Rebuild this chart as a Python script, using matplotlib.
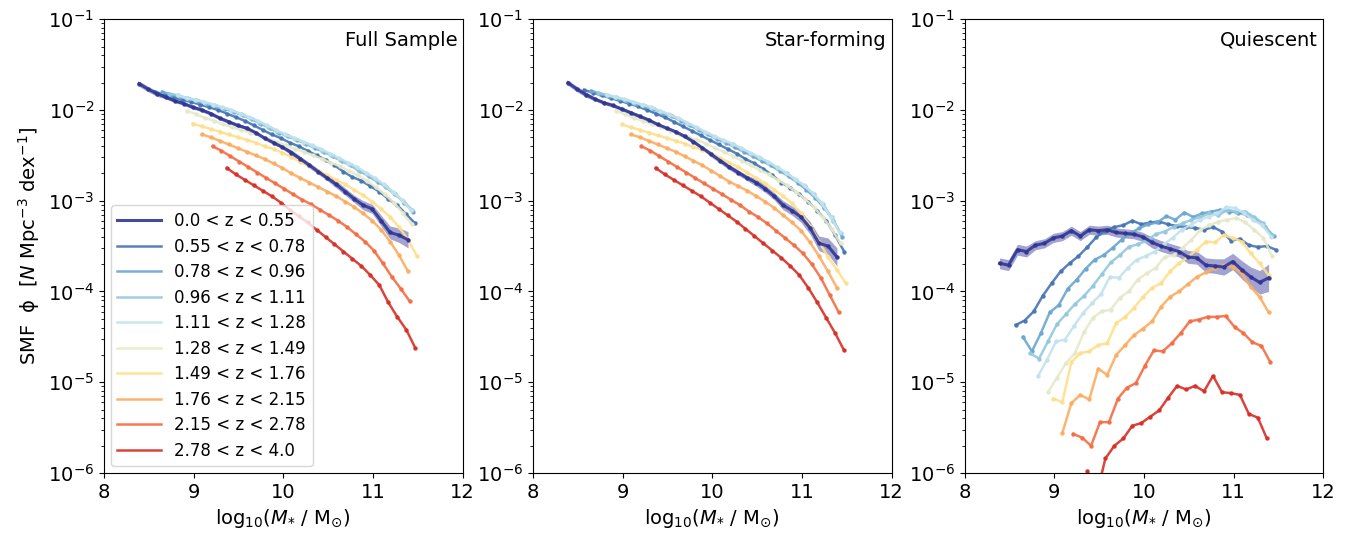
import numpy as np
import matplotlib
matplotlib.use("Agg")
import matplotlib.pyplot as plt

# redshift bins
z_labels = ['0.0 < z < 0.55', '0.55 < z < 0.78', '0.78 < z < 0.96', '0.96 < z < 1.11',
            '1.11 < z < 1.28', '1.28 < z < 1.49', '1.49 < z < 1.76', '1.76 < z < 2.15',
            '2.15 < z < 2.78', '2.78 < z < 4.0']
colors = ['#313695', '#4575b4', '#6aa6d0', '#94c8df', '#c2e3ee',
          '#e6e9c8', '#fedf8c', '#fcac62', '#f46d43', '#d73027']

# first mass bin (log10 M*/Msun) of each redshift bin, bins are 0.1 dex wide
m_start = [8.39, 8.57, 8.65, 8.73, 8.82, 8.93, 8.99, 9.09, 9.21, 9.37]
dm = 0.1

# ---- Full sample, log10(phi) ----
full_0 = [-1.71, -1.77, -1.82, -1.86, -1.90, -1.93, -1.97, -2.00, -2.04, -2.09, -2.13, -2.17, -2.20,
          -2.25, -2.31, -2.36, -2.41, -2.47, -2.54, -2.61, -2.68, -2.75, -2.82, -2.90, -2.98, -3.05,
          -3.09, -3.22, -3.35, -3.38, -3.43]
full_1 = [-1.80, -1.83, -1.86, -1.89, -1.91, -1.94, -1.97, -2.00, -2.04, -2.08, -2.12, -2.17, -2.22,
          -2.27, -2.31, -2.36, -2.40, -2.45, -2.50, -2.55, -2.61, -2.68, -2.74, -2.78, -2.84, -2.90,
          -2.98, -3.05, -3.15, -3.25]
full_2 = [-1.80, -1.83, -1.86, -1.88, -1.90, -1.93, -1.96, -1.99, -2.02, -2.06, -2.10, -2.15, -2.20,
          -2.25, -2.29, -2.33, -2.37, -2.42, -2.46, -2.51, -2.56, -2.61, -2.67, -2.73, -2.79, -2.85,
          -2.93, -3.02, -3.12]
full_3 = [-1.82, -1.84, -1.87, -1.89, -1.92, -1.95, -1.98, -2.01, -2.05, -2.09, -2.14, -2.19, -2.24,
          -2.28, -2.32, -2.36, -2.40, -2.45, -2.50, -2.55, -2.60, -2.66, -2.71, -2.77, -2.84, -2.92,
          -3.00, -3.10]
full_4 = [-1.84, -1.87, -1.89, -1.91, -1.94, -1.97, -2.00, -2.04, -2.08, -2.12, -2.17, -2.22, -2.27,
          -2.31, -2.35, -2.39, -2.43, -2.48, -2.53, -2.58, -2.63, -2.69, -2.75, -2.82, -2.90, -2.99,
          -3.10]
full_5 = [-2.01, -2.05, -2.09, -2.12, -2.16, -2.19, -2.22, -2.25, -2.28, -2.32, -2.35, -2.39, -2.43,
          -2.46, -2.50, -2.54, -2.58, -2.62, -2.67, -2.72, -2.78, -2.85, -2.93, -3.02, -3.13, -3.26]
full_6 = [-2.15, -2.18, -2.21, -2.24, -2.27, -2.30, -2.33, -2.36, -2.40, -2.43, -2.47, -2.52, -2.57,
          -2.62, -2.67, -2.72, -2.77, -2.82, -2.88, -2.94, -3.01, -3.09, -3.18, -3.29, -3.43, -3.61]
full_7 = [-2.27, -2.30, -2.34, -2.38, -2.42, -2.46, -2.50, -2.54, -2.59, -2.64, -2.70, -2.75, -2.80,
          -2.85, -2.90, -2.95, -3.01, -3.07, -3.14, -3.22, -3.32, -3.45, -3.60, -3.78]
full_8 = [-2.40, -2.45, -2.51, -2.57, -2.63, -2.69, -2.75, -2.81, -2.87, -2.93, -2.99, -3.04, -3.10,
          -3.16, -3.22, -3.29, -3.37, -3.45, -3.55, -3.69, -3.84, -3.97, -4.11]
full_9 = [-2.64, -2.71, -2.77, -2.83, -2.89, -2.95, -3.02, -3.10, -3.17, -3.24, -3.32, -3.40, -3.48,
          -3.56, -3.64, -3.72, -3.82, -3.93, -4.12, -4.28, -4.42, -4.62]
full_0_err = [0.03, 0.03, 0.03, 0.02, 0.02, 0.02, 0.02, 0.02, 0.02, 0.02, 0.02, 0.02, 0.02, 0.02,
              0.02, 0.02, 0.02, 0.03, 0.03, 0.03, 0.03, 0.03, 0.04, 0.04, 0.04, 0.05, 0.05, 0.06,
              0.07, 0.08, 0.09]

# ---- Star-forming ----
sf_0 = [-1.70, -1.77, -1.83, -1.88, -1.92, -1.95, -1.99, -2.03, -2.07, -2.11, -2.16, -2.20, -2.24,
        -2.29, -2.35, -2.42, -2.49, -2.56, -2.63, -2.69, -2.75, -2.80, -2.87, -2.95, -3.05, -3.11,
        -3.18, -3.30, -3.47, -3.50, -3.62]
sf_1 = [-1.78, -1.81, -1.84, -1.87, -1.90, -1.93, -1.96, -2.00, -2.04, -2.08, -2.13, -2.18, -2.23,
        -2.28, -2.33, -2.38, -2.43, -2.48, -2.54, -2.59, -2.65, -2.72, -2.80, -2.86, -2.93, -3.01,
        -3.11, -3.22, -3.38, -3.56]
sf_2 = [-1.79, -1.82, -1.85, -1.88, -1.90, -1.93, -1.96, -1.99, -2.03, -2.07, -2.12, -2.17, -2.22,
        -2.27, -2.32, -2.36, -2.41, -2.46, -2.51, -2.56, -2.61, -2.67, -2.73, -2.80, -2.88, -2.97,
        -3.08, -3.22, -3.40]
sf_3 = [-1.81, -1.84, -1.86, -1.89, -1.92, -1.95, -1.98, -2.02, -2.06, -2.10, -2.15, -2.20, -2.25,
        -2.30, -2.34, -2.38, -2.43, -2.48, -2.53, -2.58, -2.64, -2.70, -2.77, -2.84, -2.93, -3.04,
        -3.18, -3.36]
sf_4 = [-1.83, -1.86, -1.88, -1.91, -1.94, -1.97, -2.01, -2.05, -2.09, -2.14, -2.19, -2.24, -2.29,
        -2.33, -2.37, -2.42, -2.47, -2.52, -2.57, -2.63, -2.69, -2.76, -2.83, -2.92, -3.03, -3.18,
        -3.35]
sf_5 = [-2.01, -2.05, -2.09, -2.12, -2.16, -2.19, -2.23, -2.26, -2.30, -2.33, -2.37, -2.42, -2.46,
        -2.51, -2.56, -2.61, -2.66, -2.71, -2.77, -2.83, -2.90, -2.98, -3.07, -3.18, -3.31, -3.47]
sf_6 = [-2.16, -2.19, -2.22, -2.25, -2.28, -2.31, -2.34, -2.37, -2.41, -2.44, -2.48, -2.53, -2.58,
        -2.63, -2.69, -2.75, -2.81, -2.88, -2.95, -3.03, -3.14, -3.28, -3.45, -3.62, -3.76, -3.91]
sf_7 = [-2.27, -2.30, -2.34, -2.38, -2.42, -2.46, -2.51, -2.56, -2.61, -2.67, -2.73, -2.79, -2.84,
        -2.89, -2.95, -3.01, -3.08, -3.16, -3.24, -3.33, -3.46, -3.61, -3.78, -3.96]
sf_8 = [-2.40, -2.45, -2.51, -2.57, -2.63, -2.69, -2.75, -2.81, -2.87, -2.93, -2.99, -3.05, -3.12,
        -3.18, -3.25, -3.33, -3.41, -3.49, -3.58, -3.70, -3.85, -4.04, -4.23]
sf_9 = [-2.64, -2.71, -2.77, -2.83, -2.89, -2.95, -3.02, -3.09, -3.16, -3.23, -3.31, -3.39, -3.47,
        -3.55, -3.63, -3.72, -3.82, -3.96, -4.12, -4.29, -4.46, -4.65]
sf_0_err = [0.03, 0.03, 0.03, 0.02, 0.02, 0.02, 0.02, 0.02, 0.02, 0.02, 0.02, 0.02, 0.02, 0.02,
            0.02, 0.02, 0.03, 0.03, 0.03, 0.03, 0.03, 0.04, 0.04, 0.04, 0.05, 0.05, 0.06, 0.07,
            0.08, 0.09, 0.10]

# ---- Quiescent ----
q_0 = [-3.69, -3.71, -3.54, -3.56, -3.49, -3.47, -3.41, -3.39, -3.33, -3.39, -3.32, -3.33, -3.32,
       -3.35, -3.36, -3.37, -3.40, -3.46, -3.50, -3.53, -3.56, -3.62, -3.63, -3.71, -3.72, -3.73,
       -3.67, -3.76, -3.84, -3.90, -3.85]
q_1 = [-4.37, -4.32, -4.22, -4.05, -3.91, -3.78, -3.69, -3.61, -3.51, -3.40, -3.33, -3.29, -3.27,
       -3.22, -3.26, -3.24, -3.23, -3.26, -3.28, -3.29, -3.30, -3.32, -3.29, -3.34, -3.44, -3.42,
       -3.49, -3.51, -3.50, -3.54]
q_2 = [-4.50, -4.66, -4.46, -4.23, -4.15, -3.97, -3.87, -3.75, -3.65, -3.60, -3.52, -3.43, -3.36,
       -3.30, -3.26, -3.24, -3.17, -3.21, -3.13, -3.18, -3.14, -3.12, -3.10, -3.12, -3.13, -3.16,
       -3.21, -3.29, -3.39]
q_3 = [-4.68, -4.74, -4.55, -4.36, -4.25, -4.14, -4.05, -3.94, -3.81, -3.68, -3.60, -3.51, -3.48,
       -3.44, -3.37, -3.34, -3.29, -3.25, -3.21, -3.18, -3.14, -3.16, -3.10, -3.12, -3.12, -3.18,
       -3.25, -3.38]
q_4 = [-4.93, -4.75, -4.55, -4.53, -4.38, -4.24, -4.13, -4.03, -3.84, -3.85, -3.74, -3.65, -3.61,
       -3.56, -3.48, -3.41, -3.32, -3.27, -3.21, -3.18, -3.14, -3.07, -3.08, -3.14, -3.21, -3.27,
       -3.40]
q_5 = [-5.11, -4.95, -4.79, -4.68, -4.45, -4.29, -4.22, -4.20, -4.07, -4.00, -3.87, -3.80, -3.74,
       -3.62, -3.60, -3.52, -3.43, -3.32, -3.27, -3.23, -3.21, -3.19, -3.24, -3.32, -3.41, -3.61]
q_6 = [-5.18, -5.22, -4.78, -4.68, -4.66, -4.59, -4.57, -4.35, -4.28, -4.18, -4.06, -3.96, -3.91,
       -3.78, -3.69, -3.62, -3.54, -3.45, -3.46, -3.38, -3.41, -3.45, -3.58, -3.69, -3.82]
q_7 = [-5.56, -5.23, -5.14, -5.19, -4.85, -4.92, -4.70, -4.59, -4.48, -4.41, -4.33, -4.17, -4.06,
       -4.00, -3.92, -3.84, -3.79, -3.74, -3.71, -3.73, -3.80, -3.95, -4.06, -4.23]
q_8 = [-5.57, -5.61, -5.70, -5.44, -5.44, -5.18, -5.06, -5.01, -4.82, -4.65, -4.66, -4.57, -4.46,
       -4.33, -4.31, -4.28, -4.28, -4.27, -4.39, -4.46, -4.56, -4.60, -4.78]
q_9 = [-5.98, -6.25, -5.84, -5.70, -5.62, -5.48, -5.45, -5.38, -5.31, -5.17, -5.04, -5.08, -5.04,
       -5.10, -4.93, -5.11, -5.12, -5.14, -5.35, -5.39, -5.62]
q_0_err = [0.06, 0.06, 0.06, 0.06, 0.05, 0.05, 0.05, 0.05, 0.05, 0.05, 0.05, 0.05, 0.05, 0.05,
           0.05, 0.05, 0.05, 0.06, 0.06, 0.06, 0.06, 0.07, 0.07, 0.08, 0.08, 0.09, 0.09, 0.10,
           0.11, 0.13, 0.15]

panels = [
    ('Full Sample', [full_0, full_1, full_2, full_3, full_4, full_5, full_6, full_7, full_8, full_9], full_0_err),
    ('Star-forming', [sf_0, sf_1, sf_2, sf_3, sf_4, sf_5, sf_6, sf_7, sf_8, sf_9], sf_0_err),
    ('Quiescent', [q_0, q_1, q_2, q_3, q_4, q_5, q_6, q_7, q_8, q_9], q_0_err),
]

fig = plt.figure(figsize=(13.51, 5.33), dpi=100)
lefts = [0.077, 0.3945, 0.714]
axes = [fig.add_axes([l, 0.1126, 0.2655, 0.8514]) for l in lefts]

for ax, (title, series, err0) in zip(axes, panels):
    for i, logphi in enumerate(series):
        logphi = np.array(logphi)
        mass = m_start[i] + dm * np.arange(len(logphi))
        lw = 2.2 if i == 0 else 1.8
        z = 3 if i == 0 else 2
        ax.plot(mass, 10**logphi, '-', color=colors[i], lw=lw, alpha=0.9, label=z_labels[i], zorder=z)
        ax.plot(mass, 10**logphi, 'o', color=colors[i], ms=2.2, alpha=0.9, zorder=z)
        if i == 0:
            e = np.array(err0)
            ax.fill_between(mass, 10**(logphi - e), 10**(logphi + e), color=colors[0],
                            alpha=0.45, lw=0, zorder=1)
    ax.set_yscale('log')
    ax.set_xlim(8, 12)
    ax.set_ylim(1e-6, 1e-1)
    ax.set_xticks([8, 9, 10, 11, 12])
    ax.tick_params(labelsize=14)
    ax.set_xlabel(r'$\mathrm{log}_{10}(M_{*}\ /\ \mathrm{M}_{\odot})$', fontsize=14)
    ax.text(0.985, 0.975, title, transform=ax.transAxes, ha='right', va='top', fontsize=14)

axes[0].set_ylabel('SMF  ϕ  [$N$ Mpc$^{-3}$ dex$^{-1}$]', fontsize=14)
axes[0].legend(loc='lower left', fontsize=12, handlelength=2.6, labelspacing=0.45,
               borderaxespad=0.4)

fig.savefig('out.png', dpi=100)
